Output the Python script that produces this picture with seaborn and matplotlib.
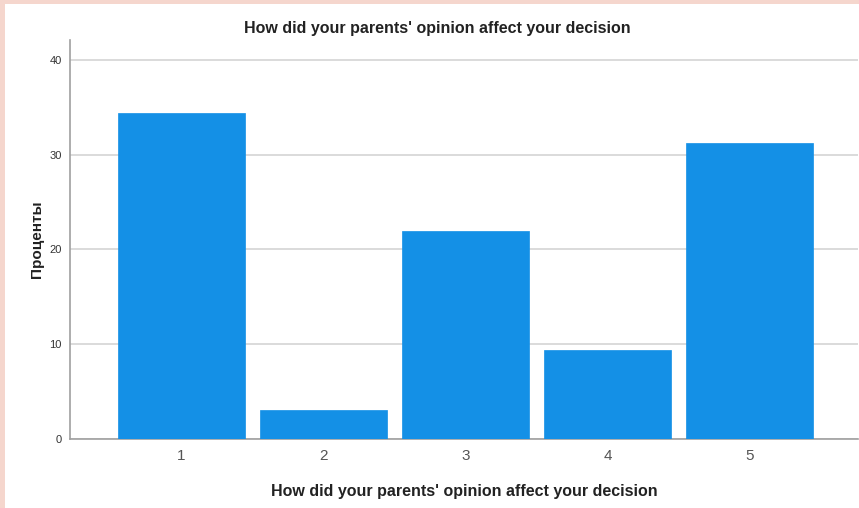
import matplotlib
matplotlib.use("Agg")
import matplotlib.pyplot as plt
from matplotlib.patches import Rectangle
import pandas as pd
import seaborn as sns

categories = ["1", "2", "3", "4", "5"]
percents = [34.4, 3.1, 21.9, 9.4, 31.2]
y_ticks = [0, 10, 20, 30, 40]

title = "How did your parents' opinion affect your decision"
y_label = "Проценты"

df = pd.DataFrame({"answer": categories, "percent": percents})

sns.set_style("white")
plt.rcParams["font.family"] = ["Liberation Sans", "DejaVu Sans"]

fig = plt.figure(figsize=(8.59, 5.08), dpi=100)
fig.patch.set_facecolor("#f5d6cd")
# white panel inside the pink frame (left and top edges)
fig.patches.append(Rectangle((5 / 859, 0), 1, 1 - 4 / 508, transform=fig.transFigure,
                             facecolor="white", edgecolor="none", zorder=-5))

ax = fig.add_axes([70 / 859, 69 / 508, 788 / 859, 399 / 508])
ax.set_facecolor("none")
sns.barplot(data=df, x="answer", y="percent", color="#1490e6", saturation=1,
            width=0.894, edgecolor="#1490e6", linewidth=0.5, ax=ax, zorder=3)

ax.set_xlim(-0.785, 4.764)
ax.set_ylim(0, 42.1)
ax.set_yticks(y_ticks)
ax.yaxis.grid(True, color="#d4d4d4", linewidth=1.2, zorder=0)
ax.set_axisbelow(True)

for side in ["top", "right"]:
    ax.spines[side].set_visible(False)
for side in ["left", "bottom"]:
    ax.spines[side].set_color("#a0a0a0")
    ax.spines[side].set_linewidth(1.2)

ax.tick_params(axis="y", length=0, labelsize=8, labelcolor="#333333", pad=6)
ax.tick_params(axis="x", length=0, labelsize=11, labelcolor="#555555", pad=7)

ax.set_xlabel(title, fontsize=11.5, fontweight="bold", color="#222222", labelpad=15)
ax.set_ylabel(y_label, fontsize=11, fontweight="bold", color="#222222", labelpad=4)
fig.text(437 / 859, 1 - 29 / 508, title, ha="center", va="center",
         fontsize=11.5, fontweight="bold", color="#222222")

fig.savefig("out.png", dpi=100, facecolor=fig.get_facecolor())
plt.close()
